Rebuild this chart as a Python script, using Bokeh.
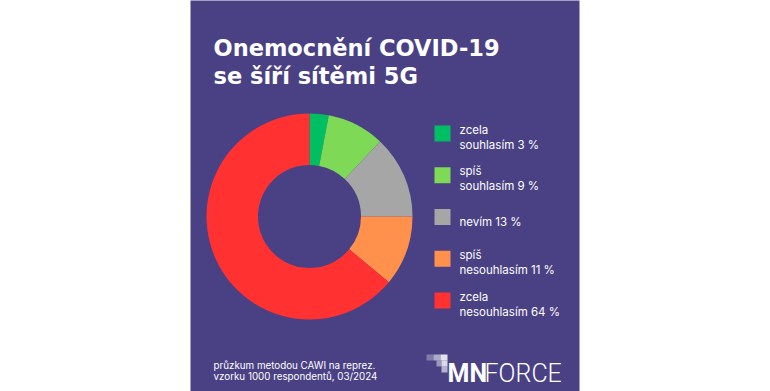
import math
from bokeh.plotting import figure
from bokeh.models import Range1d, ColumnDataSource
from bokeh.core.properties import value
from bokeh.embed import file_html
from bokeh.resources import INLINE

# ---- data ----
categories = ["zcela\nsouhlasím", "spíš\nsouhlasím", "nevím", "spíš\nnesouhlasím", "zcela\nnesouhlasím"]
values = [3, 9, 13, 11, 64]
colors = ["#00bf63", "#7ed957", "#a6a6a6", "#ff914d", "#ff3131"]
title_lines = ["Onemocnění COVID-19", "se šíří sítěmi 5G"]
footer_lines = ["průzkum metodou CAWI na reprez.", "vzorku 1000 respondentů, 03/2024"]

W, H = 770, 391
BG = "#4a4185"
FONT = "Inter"

def Y(py):
    return H - py

p = figure(width=W, height=H, output_backend="svg", toolbar_location=None,
           x_range=Range1d(0, W), y_range=Range1d(0, H),
           min_border=0, border_fill_color="white", background_fill_color="white",
           outline_line_color=None)
p.axis.visible = False
p.grid.visible = False

# purple panel
p.quad(left=[190], right=[579], top=[Y(-10)], bottom=[Y(400)], color=BG, line_color=None)

# title
p.text(x=[213, 213], y=[Y(47), Y(75)], text=title_lines, text_color="white",
       text_font=value("DejaVu Sans"), text_font_style="bold", text_font_size="22.5px",
       text_baseline="alphabetic")

# donut
total = sum(values)
starts, ends = [], []
cum = 0
for v in values:
    starts.append(math.pi / 2 - 2 * math.pi * cum / total)
    cum += v
    ends.append(math.pi / 2 - 2 * math.pi * cum / total)
src = ColumnDataSource(dict(start=starts, end=ends, color=colors, cat=categories, val=values))
p.annular_wedge(x=309, y=Y(216), inner_radius=51.5, outer_radius=103,
                inner_radius_units="screen", outer_radius_units="screen",
                start_angle="start", end_angle="end", direction="clock",
                color="color", line_color=None, source=src)

# legend
sq_x, sq_size, txt_x = 434, 16, 459
sq_t, sq_c = [], []
tx, ty, tt = [], [], []
for i, (cat, v, c) in enumerate(zip(categories, values, colors)):
    top = 125 + i * 41.75
    sq_t.append(Y(top)); sq_c.append(c)
    lines = f"{cat} {v} %".split("\n")
    if len(lines) == 1:
        tx.append(txt_x); ty.append(Y(top + 13)); tt.append(lines[0])
    else:
        for j, ln in enumerate(lines):
            tx.append(txt_x); ty.append(Y(top + 4 + 15 * j)); tt.append(ln)
p.quad(left=[sq_x] * 5, right=[sq_x + sq_size] * 5, top=sq_t,
       bottom=[t - sq_size for t in sq_t], color=sq_c, line_color=None)
p.text(x=tx, y=ty, text=tt, text_color="white", text_font=value(FONT),
       text_font_size="11.5px", text_baseline="alphabetic")

# footer
p.text(x=[213, 213], y=[Y(365), Y(376)], text=footer_lines, text_color="white",
       text_font=value(FONT), text_font_size="9.8px", text_baseline="alphabetic")

# logo
blk = [(426, 354, 7, 0.3), (433, 354, 7, 0.55), (440, 354, 7, 0.85),
       (436, 360, 5, 0.45), (441, 360, 6, 0.8), (441, 366, 6, 0.6)]
p.quad(left=[b[0] for b in blk], right=[b[0] + b[2] for b in blk],
       top=[Y(b[1]) for b in blk], bottom=[Y(b[1] + 6) for b in blk],
       color="white", fill_alpha=[b[3] for b in blk], line_color=None)
p.text(x=[447], y=[Y(373)], text=["MN"], text_color="white", text_font=value("Roboto"),
       text_font_style="bold", text_font_size="25px", text_baseline="alphabetic")
p.text(x=[484], y=[Y(373)], text=["FORCE"], text_color="white",
       text_font=value("'Roboto Light', 'Lato Light', 'Open Sans Light', 'Inter Light', Roboto"),
       text_font_size="25px", text_baseline="alphabetic")

open("out.html", "w").write(file_html(p, INLINE))
